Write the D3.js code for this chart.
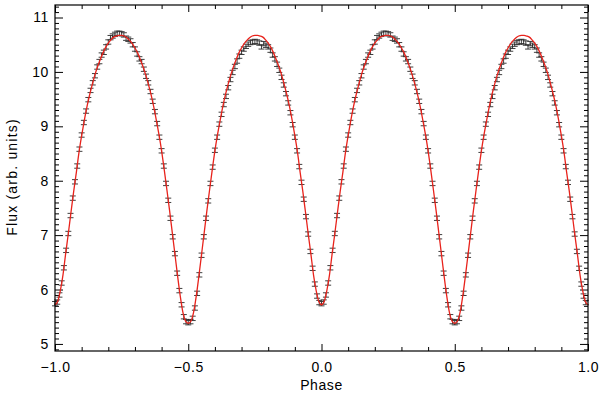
<!DOCTYPE html>
<html>
<head>
<meta charset="utf-8">
<script src="https://cdnjs.cloudflare.com/ajax/libs/d3/7.8.5/d3.min.js"></script>
<style>
  body { margin: 0; background: #fff; }
  svg { display: block; }
</style>
</head>
<body>
<svg id="chart"></svg>
<script>
// folded light curve, one cycle (phase 0..1), 120 bins - plotted twice (-1..0 and 0..1)
var fluxObs = [
  5.74, 5.77, 5.90, 6.12, 6.40, 6.72, 7.03, 7.36, 7.68, 7.98,
  8.27, 8.58, 8.84, 9.07, 9.28, 9.49, 9.66, 9.80, 9.93, 10.09,
  10.19, 10.31, 10.36, 10.46, 10.55, 10.63, 10.66, 10.69, 10.71, 10.71,
  10.70, 10.68, 10.62, 10.60, 10.57, 10.50, 10.42, 10.33, 10.24, 10.19,
  10.05, 9.92, 9.80, 9.64, 9.46, 9.27, 9.05, 8.80, 8.55, 8.27,
  7.95, 7.64, 7.31, 6.97, 6.66, 6.30, 5.98, 5.72, 5.50, 5.41,
  5.39, 5.41, 5.47, 5.66, 5.93, 6.27, 6.63, 6.97, 7.31, 7.63,
  7.95, 8.25, 8.56, 8.80, 9.04, 9.22, 9.40, 9.55, 9.71, 9.86,
  9.99, 10.10, 10.20, 10.29, 10.36, 10.42, 10.47, 10.51, 10.54, 10.55,
  10.56, 10.55, 10.53, 10.46, 10.52, 10.49, 10.46, 10.40, 10.31, 10.24,
  10.14, 10.03, 9.90, 9.76, 9.60, 9.43, 9.25, 9.03, 8.80, 8.55,
  8.26, 7.97, 7.66, 7.34, 7.02, 6.70, 6.39, 6.10, 5.88, 5.76
];
var fluxErr = 0.04;

// model curve, phase 0..1 in steps of 0.01
var modelFlux = [
  5.72, 5.78, 5.98, 6.27, 6.66, 7.03, 7.42, 7.80, 8.15, 8.52,
  8.83, 9.11, 9.36, 9.58, 9.77, 9.95, 10.10, 10.23, 10.35, 10.45,
  10.53, 10.59, 10.64, 10.66, 10.67, 10.67, 10.66, 10.63, 10.58, 10.52,
  10.44, 10.35, 10.23, 10.10, 9.95, 9.78, 9.59, 9.37, 9.12, 8.85,
  8.55, 8.20, 7.83, 7.45, 7.05, 6.65, 6.25, 5.88, 5.58, 5.42,
  5.38,
  5.42, 5.58, 5.88, 6.25, 6.65, 7.05, 7.45, 7.83, 8.20, 8.55,
  8.85, 9.12, 9.37, 9.59, 9.78, 9.95, 10.10, 10.23, 10.35, 10.44,
  10.52, 10.58, 10.63, 10.66, 10.67, 10.67, 10.66, 10.64, 10.59, 10.53,
  10.45, 10.35, 10.23, 10.10, 9.95, 9.77, 9.58, 9.36, 9.11, 8.83,
  8.52, 8.15, 7.80, 7.42, 7.03, 6.66, 6.27, 5.98, 5.78, 5.72
];

var xMajor = [-1, -0.5, 0, 0.5, 1];
var yMajor = [5, 6, 7, 8, 9, 10, 11];

var W = 600, H = 395;
var margin = {top: 5, right: 12, bottom: 44, left: 55},
    width = W - margin.left - margin.right,
    height = H - margin.top - margin.bottom;

var svg = d3.select("#chart")
    .attr("width", W)
    .attr("height", H);

var g = svg.append("g")
    .attr("transform", "translate(" + margin.left + "," + margin.top + ")");

var x = d3.scaleLinear().domain([-1, 1]).range([0, width]);
var y = d3.scaleLinear().domain([4.87, 11.23]).range([height, 0]);

// minor ticks every 0.1
var xMinor = d3.range(-10, 11).map(function(k){ return k / 10; })
    .filter(function(v){ return xMajor.indexOf(v) < 0; });
var yMinor = d3.range(49, 113).map(function(k){ return k / 10; })
    .filter(function(v){ return v % 1 !== 0; });

var fmtX = d3.format(".1f");
var font = "'Liberation Sans', Arial, sans-serif";

function styleAxis(sel){
  sel.select(".domain").remove();
  sel.selectAll("line").attr("stroke", "#000").attr("stroke-width", 1);
  sel.selectAll("text")
     .attr("font-family", font)
     .attr("font-size", 14)
     .attr("letter-spacing", 0.6)
     .attr("fill", "#000");
}

// bottom
g.append("g").attr("transform", "translate(0," + height + ")")
  .call(d3.axisBottom(x).tickValues(xMajor).tickFormat(fmtX).tickSize(-7).tickPadding(11))
  .call(styleAxis);
g.append("g").attr("transform", "translate(0," + height + ")")
  .call(d3.axisBottom(x).tickValues(xMinor).tickFormat("").tickSize(-4))
  .call(styleAxis);
// top
g.append("g")
  .call(d3.axisTop(x).tickValues(xMajor).tickFormat("").tickSize(-7))
  .call(styleAxis);
g.append("g")
  .call(d3.axisTop(x).tickValues(xMinor).tickFormat("").tickSize(-4))
  .call(styleAxis);
// left
g.append("g")
  .call(d3.axisLeft(y).tickValues(yMajor).tickFormat(d3.format("d")).tickSize(-8).tickPadding(6))
  .call(styleAxis);
g.append("g")
  .call(d3.axisLeft(y).tickValues(yMinor).tickFormat("").tickSize(-4))
  .call(styleAxis);
// right
g.append("g").attr("transform", "translate(" + width + ",0)")
  .call(d3.axisRight(y).tickValues(yMajor).tickFormat("").tickSize(-8))
  .call(styleAxis);
g.append("g").attr("transform", "translate(" + width + ",0)")
  .call(d3.axisRight(y).tickValues(yMinor).tickFormat("").tickSize(-4))
  .call(styleAxis);

// observed points, both copies of the cycle
var nb = fluxObs.length;
var obs = [];
fluxObs.forEach(function(f, i){
  obs.push({ph: i / nb - 1, f: f});
  obs.push({ph: i / nb, f: f});
});

var eb = g.append("g").attr("class", "errbars")
    .attr("stroke", "#2a2a2a").attr("stroke-width", 0.9).attr("fill", "none");
var bars = eb.selectAll("g.bar").data(obs).enter().append("g").attr("class", "bar");
bars.append("line")
  .attr("x1", function(d){ return x(d.ph); })
  .attr("x2", function(d){ return x(d.ph); })
  .attr("y1", function(d){ return y(d.f - fluxErr); })
  .attr("y2", function(d){ return y(d.f + fluxErr); });
[-1, 1].forEach(function(s){
  bars.append("line")
    .attr("x1", function(d){ return x(d.ph) - 3; })
    .attr("x2", function(d){ return x(d.ph) + 3; })
    .attr("y1", function(d){ return y(d.f + s * fluxErr); })
    .attr("y2", function(d){ return y(d.f + s * fluxErr); });
});

// model line across -1..1
var nm = modelFlux.length - 1;
var model = [];
modelFlux.forEach(function(f, i){ model.push([i / nm - 1, f]); });
modelFlux.forEach(function(f, i){ if (i > 0) model.push([i / nm, f]); });

var line = d3.line()
  .x(function(d){ return x(d[0]); })
  .y(function(d){ return y(d[1]); })
  .curve(d3.curveMonotoneX);

g.append("path")
  .datum(model)
  .attr("d", line)
  .attr("fill", "none")
  .attr("stroke", "#e8231c")
  .attr("stroke-width", 1.3);

// frame
g.append("rect")
  .attr("width", width).attr("height", height)
  .attr("fill", "none").attr("stroke", "#000").attr("stroke-width", 1.2);

// axis titles
svg.append("text")
  .attr("x", margin.left + width / 2).attr("y", 390)
  .attr("text-anchor", "middle")
  .attr("font-family", font).attr("font-size", 14)
  .attr("letter-spacing", 0.6)
  .text("Phase");

svg.append("text")
  .attr("transform", "translate(17,177) rotate(-90)")
  .attr("text-anchor", "middle")
  .attr("font-family", font).attr("font-size", 14)
  .attr("letter-spacing", 1.2)
  .text("Flux (arb. units)");
</script>
</body>
</html>
